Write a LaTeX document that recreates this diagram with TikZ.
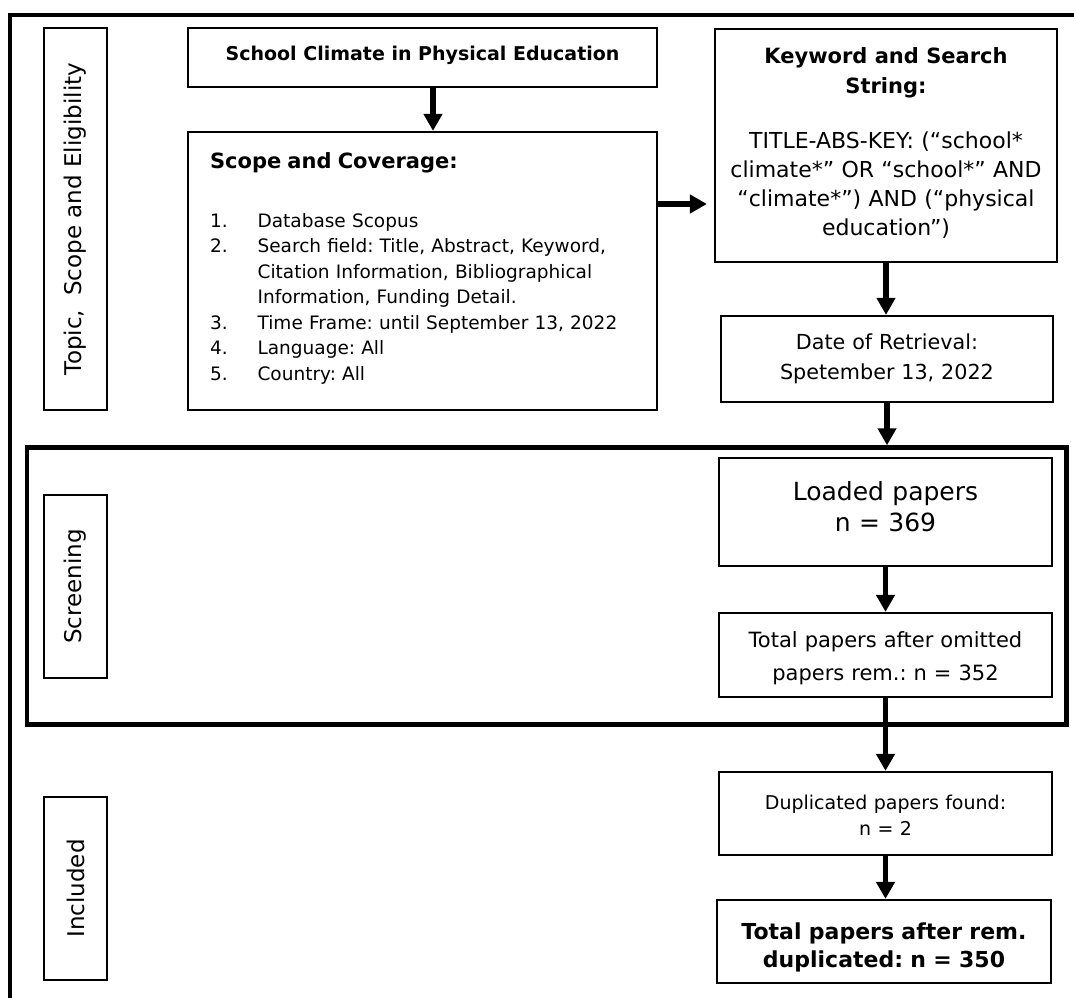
\documentclass[tikz,border=0pt]{standalone}
\usepackage{fontspec}
\setmainfont{DejaVu Sans}
\usetikzlibrary{arrows.meta}
\newcommand\myTS[1]{\rule{0pt}{#1}}
\newcommand\myBS[1]{\rule[-#1]{0pt}{#1}}
\begin{document}
\frenchspacing
\begin{tikzpicture}[x=1pt,y=-1pt,
  box/.style={draw, line width=2.2pt, rectangle, inner sep=0pt, align=center},
  lab/.style={draw, line width=2.2pt, rectangle, inner sep=0pt, rotate=90,
    font=\fontsize{23}{28}\selectfont, minimum height=63pt},
  arr/.style={line width=5.5pt, -{Triangle[width=18pt,length=17pt]}},
  frameline/.style={line width=4.3pt}
]
\useasboundingbox (0,0) rectangle (1074,998);
\clip (0,0) rectangle (1074,998);
% outer frame
\draw[frameline] (8,15.3) -- (1080,15.3);
\draw[frameline] (10.3,13.2) -- (10.3,1005);
% screening frame
\node[draw, line width=4.5pt, rectangle, inner sep=0pt, minimum width=1039.5pt, minimum height=277pt] (screen) at (546.75,586) {};
% left labels
\node[lab, minimum width=382pt] (topic) at (75.5,219) {Topic,\hspace{0.3em} Scope and Eligibility};
\node[lab, minimum width=183pt] (screenlab) at (75.5,586.5) {Screening};
\node[lab, minimum width=183pt] (inclab) at (75.5,888.5) {Included};
% boxes
\node[box, minimum width=469pt, minimum height=59pt, font=\bfseries\fontsize{19}{23}\selectfont] (school) at (422.5,57.5)
  {\myTS{15pt}School Climate in Physical Education\myBS{10pt}};
\node[box, minimum width=469pt, minimum height=278pt, text width=425pt, inner xsep=22pt, inner ysep=0pt, align=left,
  font=\fontsize{18.5}{25.5}\selectfont] (scope) at (422.5,271)
  {{\bfseries\fontsize{21}{25.5}\selectfont\myTS{20pt}Scope and Coverage:}\\[33.5pt]
   \makebox[47.6pt][l]{1.}Database Scopus\\
   \makebox[47.6pt][l]{2.}Search field: Title, Abstract, Keyword,\\
   \hspace*{47.6pt}Citation Information, Bibliographical\\
   \hspace*{47.6pt}Information, Funding Detail.\\
   \makebox[47.6pt][l]{3.}Time Frame: until September 13, 2022\\
   \makebox[47.6pt][l]{4.}Language: All\\
   \makebox[47.6pt][l]{5.}Country: All\myBS{14pt}};
\node[box, minimum width=342pt, minimum height=233pt, text width=334pt, font=\fontsize{22}{29}\selectfont] (keyword) at (886,145.5)
  {{\bfseries\fontsize{21}{29}\selectfont\myTS{20pt}Keyword and Search\\[1pt]String:}\\[26pt]
   TITLE-ABS-KEY: (“school*\\climate*” OR “school*” AND\\“climate*”) AND (“physical\\education”)\myBS{12.4pt}};
\node[box, minimum width=332pt, minimum height=86pt, text width=324pt, font=\fontsize{20.7}{30}\selectfont] (date) at (887,359)
  {Date of Retrieval:\\Spetember 13, 2022};
\node[box, minimum width=333pt, minimum height=108pt, text width=325pt, font=\fontsize{25}{31}\selectfont] (loaded) at (885.5,512)
  {\myTS{20pt}Loaded papers\\n = 369\myBS{13pt}};
\node[box, minimum width=333pt, minimum height=84pt, text width=325pt, font=\fontsize{21}{33.5}\selectfont] (total) at (885.5,655)
  {\myTS{23pt}Total papers after omitted\\papers rem.: n = 352\myBS{5.5pt}};
\node[box, minimum width=333pt, minimum height=83pt, text width=325pt, font=\fontsize{19}{26}\selectfont] (dup) at (885.5,813.5)
  {\myTS{17pt}Duplicated papers found:\\n = 2};
\node[box, minimum width=334pt, minimum height=83pt, text width=326pt, font=\bfseries\fontsize{22}{28}\selectfont] (final) at (884,941.5)
  {\myTS{30pt}Total papers after rem.\\duplicated: n = 350\myBS{5.2pt}};
% connectors
\draw[arr] ([xshift=10.5pt]school.south) -- ([xshift=10.5pt]scope.north);
\coordinate (h1) at ([yshift=67pt]scope.east);
\draw[arr, shorten >=7pt] (h1) -- (h1 -| keyword.west);
\draw[arr] (keyword.south) -- (keyword.south |- date.north);
\draw[arr] (date.south) -- (date.south |- screen.north);
\draw[arr] (loaded.south) -- (loaded.south |- total.north);
\draw[arr] (total.south) -- (total.south |- dup.north);
\draw[arr] (dup.south) -- (dup.south |- final.north);
\end{tikzpicture}
\end{document}
